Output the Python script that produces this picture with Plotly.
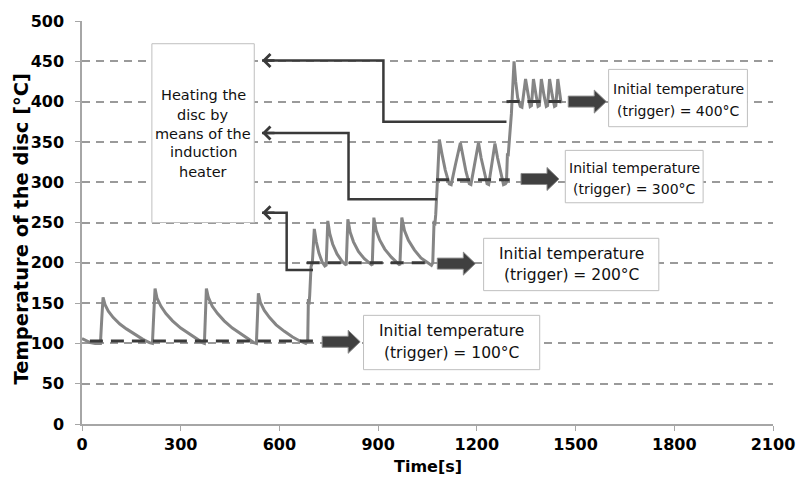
import plotly.graph_objects as go

# ---------------- data ----------------
time_s = [0, 12, 25, 40, 56, 60, 64, 70, 80, 95, 115, 135, 160, 185, 205, 214,
          218, 222, 228, 240, 255, 275, 300, 325, 350, 366, 372,
          375, 378, 384, 396, 412, 432, 457, 482, 507, 522, 530,
          533, 536, 542, 554, 570, 590, 615, 640, 662, 680,
          686, 688, 690, 692, 696, 700, 706,
          712, 720, 730, 738, 742, 747, 753, 762, 775, 790, 803,
          808, 815, 825, 840, 858, 876, 882, 887, 894, 905, 920, 940, 958, 966,
          972, 980, 992, 1010, 1030, 1050, 1062,
          1066, 1070, 1072, 1075, 1080, 1086,
          1094, 1104, 1116, 1122, 1135, 1150, 1158, 1167, 1177, 1182, 1193, 1205,
          1213, 1222, 1231, 1236, 1245, 1255, 1263, 1272, 1281, 1287,
          1290, 1293, 1295, 1305, 1313,
          1318, 1324, 1332, 1337, 1348, 1356, 1362, 1366, 1372, 1380, 1386, 1390,
          1396, 1404, 1411, 1415, 1421, 1429, 1436, 1440, 1446, 1452, 1456]
temp_c = [106, 104, 101, 100, 100, 130, 157, 148, 140, 132, 124, 118, 111, 105, 101, 100,
          135, 168, 156, 146, 137, 128, 119, 112, 105, 101, 100,
          135, 168, 157, 146, 137, 128, 119, 112, 105, 101, 100,
          130, 162, 151, 141, 132, 123, 115, 108, 103, 100,
          104, 155, 148, 160, 195, 200, 242,
          226, 212, 201, 196, 197, 252, 236, 223, 211, 202, 197,
          254, 238, 226, 214, 205, 199, 197, 256, 240, 228, 217, 207, 200, 197,
          256, 240, 228, 216, 206, 200, 197,
          200, 252, 246, 260, 300, 353,
          335, 315, 298, 297, 322, 349, 332, 313, 298, 297, 322, 349,
          330, 312, 298, 297, 322, 348, 330, 312, 297, 298,
          300, 336, 332, 385, 450,
          425, 405, 394, 393, 428, 408, 394, 395, 428, 408, 394, 395,
          428, 408, 394, 395, 428, 408, 394, 395, 428, 410, 398]

trigger_level = [103, 200, 303, 400]
trigger_start = [24, 683, 1076, 1290]
trigger_end = [712, 1062, 1300, 1456]

step_t = [[1290, 916, 916, 547], [1079, 810, 810, 547], [702, 622, 622, 547]]
step_T = [[375, 375, 451, 451], [279, 279, 361, 361], [191, 191, 262, 262]]

box_line1 = "Initial temperature"
box_line2 = ["(trigger) = 100°C", "(trigger) = 200°C", "(trigger) = 300°C", "(trigger) = 400°C"]
heater_lines = ["Heating the", "disc by", "means of the", "induction", "heater"]

x_ticks = [0, 300, 600, 900, 1200, 1500, 1800, 2100]
y_ticks = [0, 50, 100, 150, 200, 250, 300, 350, 400, 450, 500]

# ---------------- layout helpers (pixel -> data) ----------------
L, R, TOP, BOT = 82, 784, 16, 424
def xd(px):
    return (px - L) / (R - L) * 2100
def yd(py):
    return (BOT - py) / (BOT - TOP) * 500

GRAY = "#858585"
DARK = "#3a3a3a"
FONT = "DejaVu Sans"

fig = go.Figure()
fig.add_trace(go.Scatter(x=time_s, y=temp_c, mode="lines",
                         line=dict(color=GRAY, width=3), hoverinfo="skip"))
for lv, a, b in zip(trigger_level, trigger_start, trigger_end):
    fig.add_trace(go.Scatter(x=[a, b], y=[lv, lv], mode="lines",
                             line=dict(color=DARK, width=3, dash="13px,8px"),
                             hoverinfo="skip"))
for ts, Ts in zip(step_t, step_T):
    fig.add_trace(go.Scatter(x=ts, y=Ts, mode="lines",
                             line=dict(color=DARK, width=2.5), hoverinfo="skip"))

shapes = []
annotations = []

# arrowheads on step lines
for ts, Ts in zip(step_t, step_T):
    annotations.append(dict(x=ts[-1], y=Ts[-1], ax=14, ay=0, xref="x", yref="y",
                            text="", showarrow=True, arrowhead=4, arrowsize=1.0,
                            arrowwidth=2.5, arrowcolor=DARK))

# block arrows (tail pixel x, center data level)
arrow_tails = [(326, 102), (443, 199), (528, 304), (576, 400)]
arrow_path = "M0,-5.5 L26,-5.5 L26,-11.5 L38,0 L26,11.5 L26,5.5 L0,5.5 Z"
for px, lv in arrow_tails:
    shapes.append(dict(type="path", xref="x", yref="y", xsizemode="pixel",
                       ysizemode="pixel", xanchor=xd(px), yanchor=lv,
                       path=arrow_path, fillcolor="#404040",
                       line=dict(color="#8a8a8a", width=1), layer="above"))

# text boxes
boxes = [(368, 314, 547, 369, 330, 352, 15.5),
         (490, 236, 668, 289, 252, 273, 15.5),
         (573, 147, 713, 200, 165, 186, 14),
         (617, 65, 758, 123, 85, 107, 14)]
for (x0, y0, x1, y1, l1, l2, fs), txt2 in zip(boxes, box_line2):
    shapes.append(dict(type="rect", xref="x", yref="y", x0=xd(x0), x1=xd(x1),
                       y0=yd(y1), y1=yd(y0), fillcolor="white",
                       line=dict(color="#bfbfbf", width=1), layer="above"))
    cx = xd((x0 + x1) / 2)
    for ly, txt in ((l1, box_line1), (l2, txt2)):
        annotations.append(dict(x=cx, y=yd(ly), xref="x", yref="y", text=txt,
                                showarrow=False, xanchor="center", yanchor="middle",
                                font=dict(family=FONT, size=fs, color="#111111")))

# heater box
shapes.append(dict(type="rect", xref="x", yref="y", x0=xd(153), x1=xd(257),
                   y0=yd(220), y1=yd(39), fillcolor="white",
                   line=dict(color="#bfbfbf", width=1), layer="above"))
for ly, txt in zip([91, 111, 130, 149, 169], heater_lines):
    annotations.append(dict(x=xd(205), y=yd(ly), xref="x", yref="y", text=txt,
                            showarrow=False, xanchor="center", yanchor="middle",
                            font=dict(family=FONT, size=14.5, color="#111111")))

# axis titles
annotations.append(dict(x=(20 - L) / (R - L), y=(BOT - 226) / (BOT - TOP),
                        xref="paper", yref="paper", text="Temperature of the disc [°C]",
                        textangle=-90, showarrow=False, xanchor="center", yanchor="middle",
                        font=dict(family=FONT, size=19.5, color="black", weight="bold")))
annotations.append(dict(x=0.5, y=(BOT - 467) / (BOT - TOP), xref="paper", yref="paper",
                        text="Time[s]", showarrow=False, xanchor="center", yanchor="middle",
                        font=dict(family=FONT, size=16, color="black", weight="bold")))

fig.update_layout(
    width=807, height=488,
    margin=dict(l=L, r=807 - R, t=TOP, b=488 - BOT),
    paper_bgcolor="white", plot_bgcolor="white",
    showlegend=False,
    shapes=shapes, annotations=annotations,
    xaxis=dict(range=[0, 2100], tickvals=x_ticks, ticktext=[str(v) for v in x_ticks],
               showgrid=False, zeroline=False, showline=True, linecolor="#a6a6a6",
               linewidth=1.5, ticks="outside", ticklen=5, tickcolor="#a6a6a6",
               tickfont=dict(family=FONT, size=16, color="black", weight="bold")),
    yaxis=dict(range=[0, 500], tickvals=y_ticks, ticktext=[str(v) for v in y_ticks],
               showgrid=True, gridcolor="#9a9a9a", gridwidth=1.5, griddash="8px,6px",
               zeroline=False, showline=True, linecolor="#a6a6a6", linewidth=1.5,
               ticks="outside", ticklen=5, tickcolor="#a6a6a6", ticklabelstandoff=8,
               tickfont=dict(family=FONT, size=16, color="black", weight="bold")),
)

fig.write_html("out.html")
